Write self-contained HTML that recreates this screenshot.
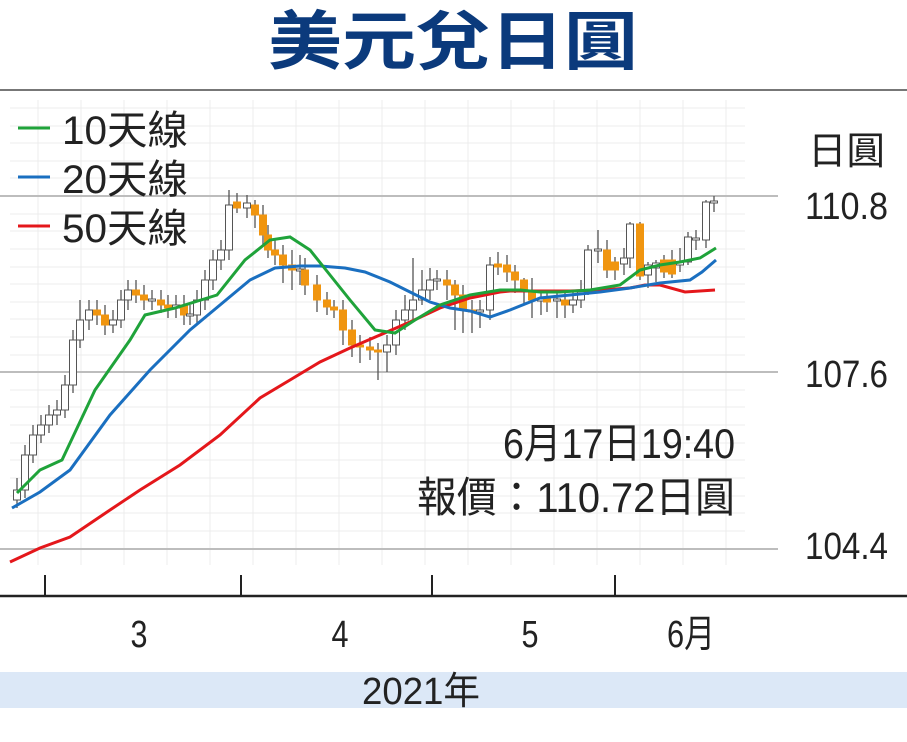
<!DOCTYPE html>
<html><head><meta charset="utf-8"><style>
html,body{margin:0;padding:0;background:#fff;}
svg{display:block;font-family:"Liberation Sans","Noto Sans CJK TC",sans-serif;}
.w line{stroke:#555;stroke-width:1.3}
.u{fill:#fff;stroke:#555;stroke-width:1}
.d{fill:#f0950f;stroke:#f0950f;stroke-width:1}
</style></head><body>
<svg width="907" height="742" viewBox="0 0 907 742" xmlns="http://www.w3.org/2000/svg">
<text x="453" y="64" text-anchor="middle" font-size="64" font-weight="bold" fill="#0b3a7c" font-family="'Noto Sans CJK TC',sans-serif" textLength="370" lengthAdjust="spacingAndGlyphs">美元兌日圓</text>
<line x1="0" y1="90" x2="907" y2="90" stroke="#777" stroke-width="2"/>
<g stroke="#ececec" stroke-width="1">
<line x1="38" y1="100" x2="38" y2="565"/><line x1="81" y1="100" x2="81" y2="565"/><line x1="124" y1="100" x2="124" y2="565"/><line x1="167" y1="100" x2="167" y2="565"/><line x1="210" y1="100" x2="210" y2="565"/><line x1="253" y1="100" x2="253" y2="565"/><line x1="296" y1="100" x2="296" y2="565"/><line x1="339" y1="100" x2="339" y2="565"/><line x1="382" y1="100" x2="382" y2="565"/><line x1="425" y1="100" x2="425" y2="565"/><line x1="468" y1="100" x2="468" y2="565"/><line x1="511" y1="100" x2="511" y2="565"/><line x1="554" y1="100" x2="554" y2="565"/><line x1="597" y1="100" x2="597" y2="565"/><line x1="640" y1="100" x2="640" y2="565"/><line x1="683" y1="100" x2="683" y2="565"/><line x1="726" y1="100" x2="726" y2="565"/>
<line x1="10" y1="108" x2="745" y2="108"/><line x1="10" y1="126" x2="745" y2="126"/><line x1="10" y1="143" x2="745" y2="143"/><line x1="10" y1="161" x2="745" y2="161"/><line x1="10" y1="178" x2="745" y2="178"/><line x1="10" y1="214" x2="745" y2="214"/><line x1="10" y1="231" x2="745" y2="231"/><line x1="10" y1="249" x2="745" y2="249"/><line x1="10" y1="267" x2="745" y2="267"/><line x1="10" y1="284" x2="745" y2="284"/><line x1="10" y1="302" x2="745" y2="302"/><line x1="10" y1="319" x2="745" y2="319"/><line x1="10" y1="337" x2="745" y2="337"/><line x1="10" y1="355" x2="745" y2="355"/><line x1="10" y1="390" x2="745" y2="390"/><line x1="10" y1="407" x2="745" y2="407"/><line x1="10" y1="425" x2="745" y2="425"/><line x1="10" y1="443" x2="745" y2="443"/><line x1="10" y1="460" x2="745" y2="460"/><line x1="10" y1="478" x2="745" y2="478"/><line x1="10" y1="496" x2="745" y2="496"/><line x1="10" y1="513" x2="745" y2="513"/><line x1="10" y1="531" x2="745" y2="531"/>
</g>
<g stroke="#bdbdbd" stroke-width="2">
<line x1="0" y1="196" x2="778" y2="196"/>
<line x1="0" y1="372" x2="778" y2="372"/>
<line x1="0" y1="549" x2="778" y2="549"/>
</g>
<g class="w">
<line x1="17" y1="478" x2="17" y2="508"/><line x1="25" y1="445" x2="25" y2="498"/><line x1="33" y1="425" x2="33" y2="463"/><line x1="41" y1="415" x2="41" y2="443"/><line x1="49" y1="405" x2="49" y2="433"/><line x1="57" y1="400" x2="57" y2="425"/><line x1="65" y1="375" x2="65" y2="418"/><line x1="73" y1="330" x2="73" y2="393"/><line x1="80" y1="300" x2="80" y2="348"/><line x1="89" y1="300" x2="89" y2="330"/><line x1="97" y1="300" x2="97" y2="325"/><line x1="105" y1="305" x2="105" y2="335"/><line x1="113" y1="310" x2="113" y2="333"/><line x1="121" y1="290" x2="121" y2="328"/><line x1="128" y1="280" x2="128" y2="310"/><line x1="136" y1="280" x2="136" y2="303"/><line x1="144" y1="285" x2="144" y2="310"/><line x1="152" y1="290" x2="152" y2="310"/><line x1="161" y1="290" x2="161" y2="313"/><line x1="168" y1="295" x2="168" y2="318"/><line x1="176" y1="295" x2="176" y2="318"/><line x1="184" y1="295" x2="184" y2="325"/><line x1="190" y1="305" x2="190" y2="325"/><line x1="197" y1="290" x2="197" y2="325"/><line x1="205" y1="270" x2="205" y2="310"/><line x1="213" y1="250" x2="213" y2="290"/><line x1="221" y1="240" x2="221" y2="270"/><line x1="229" y1="190" x2="229" y2="260"/><line x1="237" y1="193" x2="237" y2="213"/><line x1="247" y1="195" x2="247" y2="218"/><line x1="255" y1="200" x2="255" y2="228"/><line x1="263" y1="205" x2="263" y2="245"/><line x1="268" y1="225" x2="268" y2="258"/><line x1="275" y1="240" x2="275" y2="265"/><line x1="283" y1="245" x2="283" y2="283"/><line x1="292" y1="250" x2="292" y2="290"/><line x1="300" y1="255" x2="300" y2="285"/><line x1="305" y1="258" x2="305" y2="295"/><line x1="317" y1="275" x2="317" y2="312"/><line x1="327" y1="292" x2="327" y2="315"/><line x1="334" y1="300" x2="334" y2="318"/><line x1="343" y1="300" x2="343" y2="345"/><line x1="352" y1="320" x2="352" y2="357"/><line x1="360" y1="335" x2="360" y2="363"/><line x1="370" y1="337" x2="370" y2="360"/><line x1="378" y1="343" x2="378" y2="380"/><line x1="387" y1="335" x2="387" y2="372"/><line x1="396" y1="310" x2="396" y2="355"/><line x1="405" y1="295" x2="405" y2="330"/><line x1="413" y1="258" x2="413" y2="320"/><line x1="422" y1="270" x2="422" y2="305"/><line x1="430" y1="268" x2="430" y2="300"/><line x1="437" y1="270" x2="437" y2="290"/><line x1="447" y1="270" x2="447" y2="300"/><line x1="455" y1="280" x2="455" y2="330"/><line x1="463" y1="285" x2="463" y2="333"/><line x1="472" y1="300" x2="472" y2="333"/><line x1="480" y1="300" x2="480" y2="328"/><line x1="490" y1="257" x2="490" y2="320"/><line x1="498" y1="252" x2="498" y2="275"/><line x1="507" y1="255" x2="507" y2="282"/><line x1="515" y1="265" x2="515" y2="293"/><line x1="524" y1="278" x2="524" y2="305"/><line x1="532" y1="278" x2="532" y2="318"/><line x1="541" y1="290" x2="541" y2="315"/><line x1="547" y1="290" x2="547" y2="312"/><line x1="557" y1="290" x2="557" y2="318"/><line x1="565" y1="290" x2="565" y2="318"/><line x1="573" y1="290" x2="573" y2="313"/><line x1="581" y1="280" x2="581" y2="308"/><line x1="588" y1="245" x2="588" y2="295"/><line x1="598" y1="230" x2="598" y2="263"/><line x1="607" y1="240" x2="607" y2="278"/><line x1="615" y1="257" x2="615" y2="280"/><line x1="624" y1="248" x2="624" y2="275"/><line x1="630" y1="222" x2="630" y2="268"/><line x1="640" y1="222" x2="640" y2="280"/><line x1="648" y1="262" x2="648" y2="288"/><line x1="656" y1="260" x2="656" y2="282"/><line x1="664" y1="255" x2="664" y2="278"/><line x1="672" y1="250" x2="672" y2="278"/><line x1="680" y1="248" x2="680" y2="272"/><line x1="688" y1="232" x2="688" y2="265"/><line x1="696" y1="230" x2="696" y2="250"/><line x1="706" y1="200" x2="706" y2="248"/><line x1="714" y1="196" x2="714" y2="212"/>
</g>
<g>
<rect class="u" x="13.5" y="490" width="7" height="10"/><rect class="u" x="21.5" y="455" width="7" height="35"/><rect class="u" x="29.5" y="435" width="7" height="20"/><rect class="u" x="37.5" y="425" width="7" height="10"/><rect class="u" x="45.5" y="415" width="7" height="10"/><rect class="u" x="53.5" y="410" width="7" height="5"/><rect class="u" x="61.5" y="385" width="7" height="25"/><rect class="u" x="69.5" y="340" width="7" height="45"/><rect class="u" x="76.5" y="320" width="7" height="20"/><rect class="u" x="85.5" y="310" width="7" height="10"/><rect class="d" x="93.5" y="310" width="7" height="5"/><rect class="d" x="101.5" y="315" width="7" height="10"/><rect class="u" x="109.5" y="320" width="7" height="5"/><rect class="u" x="117.5" y="300" width="7" height="20"/><rect class="u" x="124.5" y="290" width="7" height="10"/><rect class="d" x="132.5" y="290" width="7" height="5"/><rect class="d" x="140.5" y="295" width="7" height="5"/><rect class="u" x="148.5" y="299" width="7" height="2"/><rect class="d" x="157.5" y="300" width="7" height="5"/><rect class="d" x="164.5" y="305" width="7" height="3"/><rect class="u" x="172.5" y="305" width="7" height="3"/><rect class="d" x="180.5" y="305" width="7" height="10"/><rect class="u" x="186.5" y="314" width="7" height="2"/><rect class="u" x="193.5" y="300" width="7" height="15"/><rect class="u" x="201.5" y="280" width="7" height="20"/><rect class="u" x="209.5" y="260" width="7" height="20"/><rect class="u" x="217.5" y="250" width="7" height="10"/><rect class="u" x="225.5" y="205" width="7" height="45"/><rect class="d" x="233.5" y="202" width="7" height="6"/><rect class="u" x="243.5" y="203" width="7" height="5"/><rect class="d" x="251.5" y="205" width="7" height="10"/><rect class="d" x="259.5" y="215" width="7" height="20"/><rect class="d" x="264.5" y="235" width="7" height="15"/><rect class="d" x="271.5" y="250" width="7" height="5"/><rect class="d" x="279.5" y="255" width="7" height="10"/><rect class="d" x="288.5" y="265" width="7" height="5"/><rect class="u" x="296.5" y="269" width="7" height="2"/><rect class="d" x="301.5" y="270" width="7" height="15"/><rect class="d" x="313.5" y="285" width="7" height="15"/><rect class="d" x="323.5" y="300" width="7" height="7"/><rect class="d" x="330.5" y="307" width="7" height="3"/><rect class="d" x="339.5" y="310" width="7" height="20"/><rect class="d" x="348.5" y="330" width="7" height="15"/><rect class="d" x="356.5" y="345" width="7" height="2"/><rect class="d" x="366.5" y="347" width="7" height="3"/><rect class="d" x="374.5" y="350" width="7" height="2"/><rect class="u" x="383.5" y="345" width="7" height="7"/><rect class="u" x="392.5" y="320" width="7" height="25"/><rect class="u" x="401.5" y="310" width="7" height="10"/><rect class="u" x="409.5" y="300" width="7" height="10"/><rect class="u" x="418.5" y="290" width="7" height="10"/><rect class="u" x="426.5" y="280" width="7" height="10"/><rect class="u" x="433.5" y="279" width="7" height="2"/><rect class="d" x="443.5" y="280" width="7" height="5"/><rect class="d" x="451.5" y="285" width="7" height="10"/><rect class="d" x="459.5" y="295" width="7" height="15"/><rect class="d" x="468.5" y="310" width="7" height="2"/><rect class="u" x="476.5" y="310" width="7" height="2"/><rect class="u" x="486.5" y="265" width="7" height="45"/><rect class="d" x="494.5" y="264" width="7" height="3"/><rect class="d" x="503.5" y="265" width="7" height="7"/><rect class="d" x="511.5" y="272" width="7" height="8"/><rect class="d" x="520.5" y="280" width="7" height="10"/><rect class="d" x="528.5" y="290" width="7" height="10"/><rect class="u" x="537.5" y="299" width="7" height="2"/><rect class="d" x="543.5" y="298" width="7" height="4"/><rect class="u" x="553.5" y="299" width="7" height="2"/><rect class="d" x="561.5" y="300" width="7" height="5"/><rect class="u" x="569.5" y="300" width="7" height="5"/><rect class="u" x="577.5" y="290" width="7" height="10"/><rect class="u" x="584.5" y="250" width="7" height="40"/><rect class="u" x="594.5" y="249" width="7" height="2"/><rect class="d" x="603.5" y="250" width="7" height="20"/><rect class="d" x="611.5" y="262" width="7" height="8"/><rect class="u" x="620.5" y="258" width="7" height="6"/><rect class="u" x="626.5" y="224" width="7" height="34"/><rect class="d" x="636.5" y="224" width="7" height="52"/><rect class="u" x="644.5" y="265" width="7" height="10"/><rect class="u" x="652.5" y="263" width="7" height="5"/><rect class="d" x="660.5" y="260" width="7" height="12"/><rect class="d" x="668.5" y="260" width="7" height="14"/><rect class="u" x="676.5" y="262" width="7" height="3"/><rect class="u" x="684.5" y="237" width="7" height="25"/><rect class="u" x="692.5" y="238" width="7" height="2"/><rect class="u" x="702.5" y="202" width="7" height="38"/><rect class="u" x="710.5" y="201" width="7" height="2"/>
</g>
<polyline fill="none" stroke="#e4171b" stroke-width="3" points="10,562 40,548 70,537 110,510 140,490 180,465 220,435 260,398 290,380 320,362 350,348 380,335 410,322 440,308 470,298 500,292 510,291 540,291 570,291 600,290 630,288 645,285 660,285 685,292 715,290"/>
<polyline fill="none" stroke="#1a6fc0" stroke-width="3" points="12,508 40,492 70,470 110,415 150,370 190,330 220,305 250,280 275,268 300,266 320,266 345,268 365,272 390,282 410,292 430,302 450,308 470,311 490,317 510,310 540,298 570,295 600,292 630,288 660,283 690,280 702,272 716,260"/>
<polyline fill="none" stroke="#1fa33a" stroke-width="3" points="17,493 40,470 62,460 95,390 130,340 145,315 175,308 217,295 245,260 270,240 290,237 310,250 330,275 350,300 375,330 395,333 415,320 440,305 470,295 500,290 520,290 540,292 560,292 590,290 620,285 640,270 660,265 680,262 700,258 716,248"/>
<g fill="#222" font-size="40">
<line x1="18" y1="128" x2="50" y2="128" stroke="#1fa33a" stroke-width="3"/>
<text x="62" y="144" textLength="126" lengthAdjust="spacingAndGlyphs">10天線</text>
<line x1="18" y1="177" x2="50" y2="177" stroke="#1a6fc0" stroke-width="3"/>
<text x="62" y="193" textLength="126" lengthAdjust="spacingAndGlyphs">20天線</text>
<line x1="18" y1="226" x2="50" y2="226" stroke="#e4171b" stroke-width="3"/>
<text x="62" y="242" textLength="126" lengthAdjust="spacingAndGlyphs">50天線</text>
</g>
<g fill="#222" font-size="38">
<text x="808" y="164" textLength="77" lengthAdjust="spacingAndGlyphs">日圓</text>
<text x="805" y="219" textLength="83" lengthAdjust="spacingAndGlyphs">110.8</text>
<text x="805" y="387" textLength="83" lengthAdjust="spacingAndGlyphs">107.6</text>
<text x="805" y="559" textLength="83" lengthAdjust="spacingAndGlyphs">104.4</text>
<text x="735" y="458" text-anchor="end" font-size="42" textLength="232" lengthAdjust="spacingAndGlyphs">6月17日19:40</text>
<text x="735" y="512" text-anchor="end" font-size="42" textLength="318" lengthAdjust="spacingAndGlyphs">報價：110.72日圓</text>
</g>
<line x1="0" y1="596" x2="907" y2="596" stroke="#222" stroke-width="2.5"/>
<g stroke="#222" stroke-width="2">
<line x1="45" y1="575" x2="45" y2="596"/>
<line x1="241" y1="575" x2="241" y2="596"/>
<line x1="432" y1="575" x2="432" y2="596"/>
<line x1="615" y1="575" x2="615" y2="596"/>
</g>
<g fill="#222" font-size="38" text-anchor="middle">
<text x="139" y="647" textLength="17" lengthAdjust="spacingAndGlyphs">3</text>
<text x="340" y="647" textLength="17" lengthAdjust="spacingAndGlyphs">4</text>
<text x="530" y="647" textLength="17" lengthAdjust="spacingAndGlyphs">5</text>
<text x="691" y="647" textLength="48" lengthAdjust="spacingAndGlyphs">6月</text>
</g>
<rect x="0" y="672" width="907" height="36" fill="#dce8f7"/>
<text x="421" y="704" text-anchor="middle" fill="#222" font-size="38" textLength="118" lengthAdjust="spacingAndGlyphs">2021年</text>
</svg>
</body></html>
